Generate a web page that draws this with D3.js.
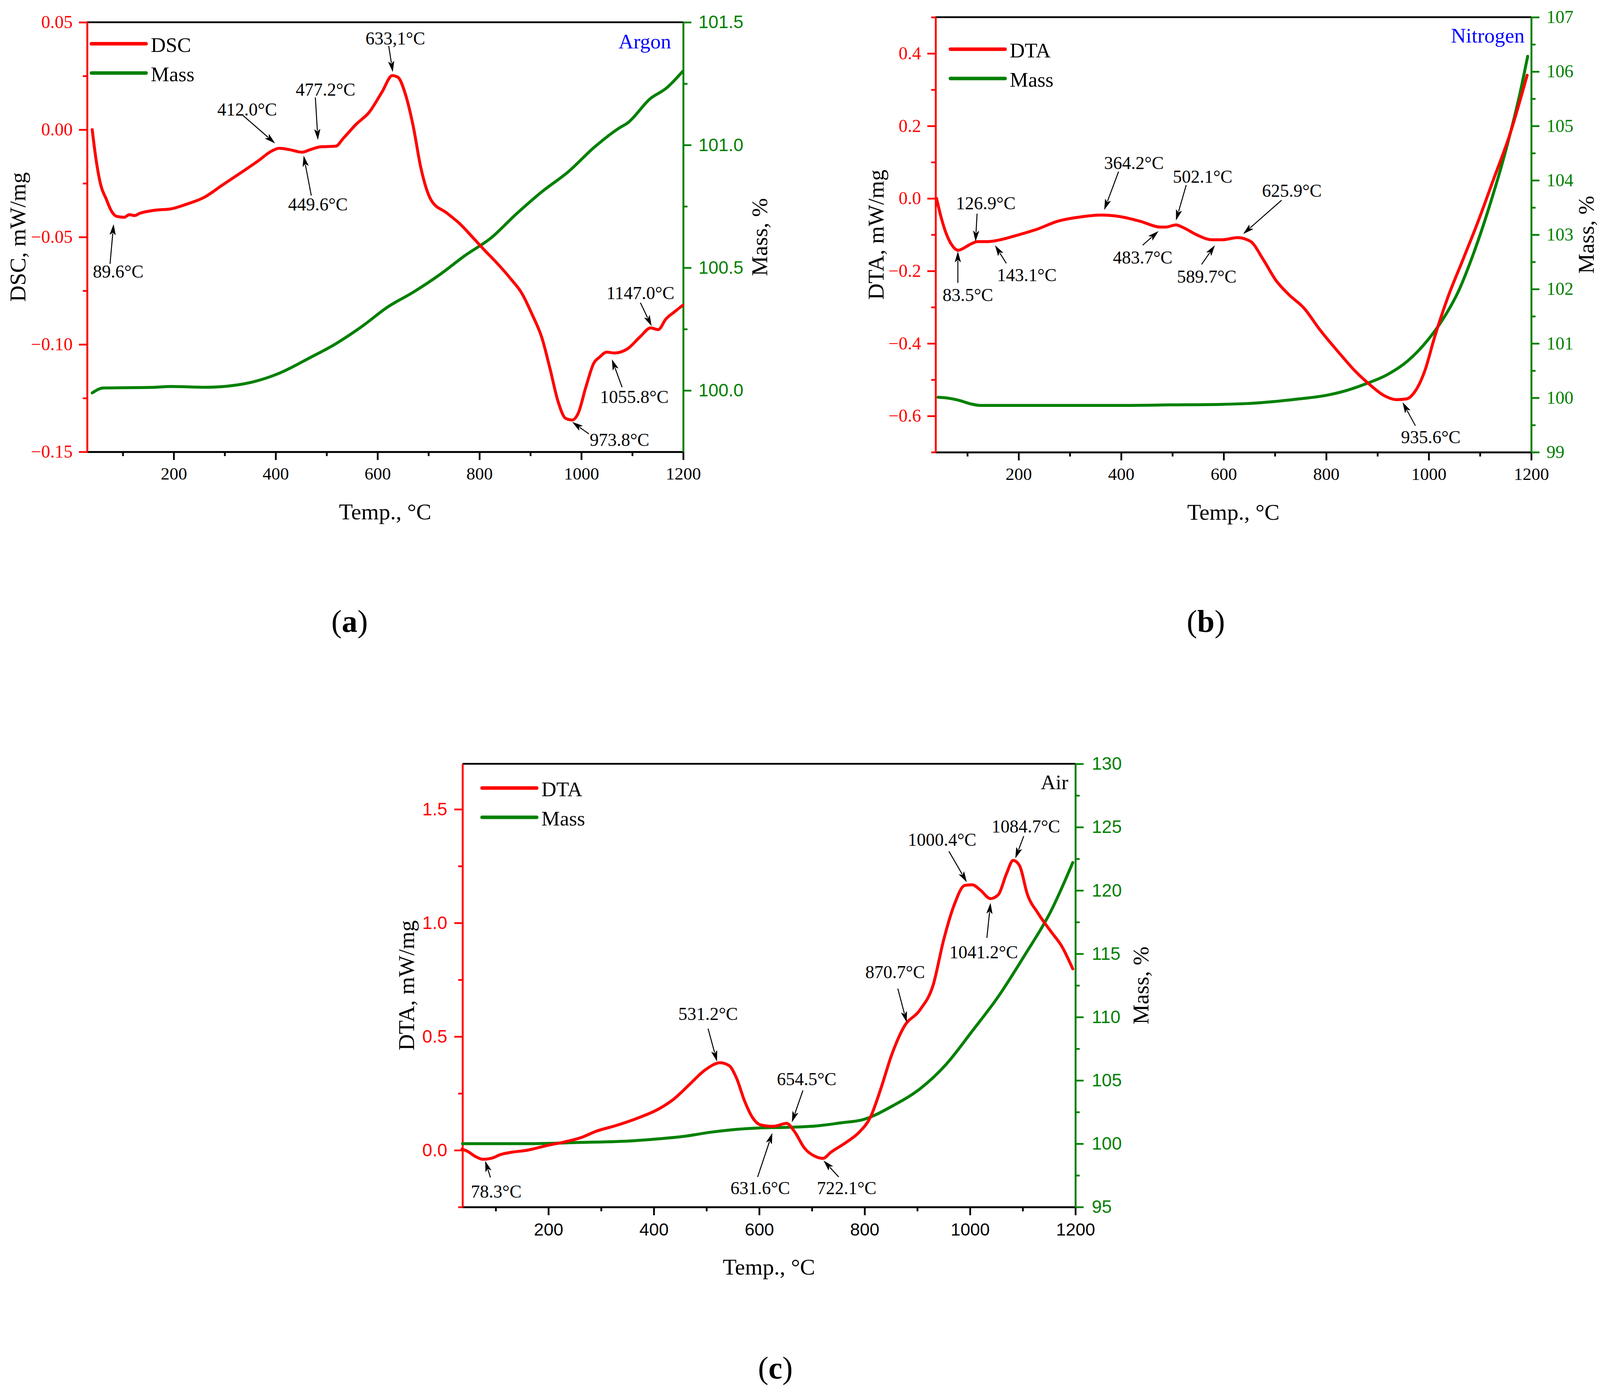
<!DOCTYPE html>
<html>
<head>
<meta charset="utf-8">
<script src="https://cdn.jsdelivr.net/npm/d3@7"></script>
<style>
  body { margin: 0; background: #fff; }
  svg { display: block; }
</style>
</head>
<body>
<div id="chart"></div>
<script>
/* CONSTANTS */
const W = 4141, H = 3557;
const SERIF = "'Liberation Serif', 'Times New Roman', serif";
const SANS = "'Liberation Sans', Arial, sans-serif";
const RED = "#ff0000", GREEN = "#008000", BLUE = "#0000ff";
const AXW = 4.5, LW = 7.5;

/* DATA - panel (a), argon */
const tA = [40,47,57,67,78,88,103,113,123,133,164,194,224,260,295,336,366,392,407,427,452,468,488,518,533,558,584,609,629,640,655,670,685,706,736,761,787,812,832,862,883,903,923,939,954,969,982,994,1009,1025,1035,1050,1065,1091,1116,1136,1151,1166,1182,1199];
const dscA = [0.000,-0.013,-0.026,-0.032,-0.038,-0.0404,-0.0408,-0.0396,-0.040,-0.039,-0.0375,-0.0369,-0.0348,-0.0315,-0.0259,-0.0194,-0.0145,-0.0100,-0.0087,-0.0093,-0.0105,-0.0093,-0.0080,-0.0077,-0.0040,0.0025,0.0082,0.0176,0.0252,0.0244,0.0163,0.0017,-0.0177,-0.0331,-0.0388,-0.0437,-0.0502,-0.0566,-0.0615,-0.0696,-0.0761,-0.0858,-0.0972,-0.1117,-0.1263,-0.1344,-0.1352,-0.1320,-0.1198,-0.1085,-0.1061,-0.1036,-0.104,-0.102,-0.0963,-0.0923,-0.0931,-0.0882,-0.0850,-0.0818];
const tmA = [40,62,164,194,265,316,356,407,468,518,569,620,670,721,772,822,873,923,974,1025,1075,1091,1136,1166,1199];
const massA = [99.99,100.01,100.013,100.016,100.013,100.02,100.035,100.07,100.134,100.19,100.26,100.34,100.40,100.47,100.55,100.62,100.72,100.81,100.89,100.99,101.07,101.09,101.19,101.23,101.30];

/* DATA - panel (b), nitrogen */
const tB = [40,47,57,70,82,93,105,120,141,161,196,236,276,316,362,397,437,477,487,507,522,547,577,597,627,652,677,702,727,757,787,827,857,887,912,937,957,972,992,1012,1037,1067,1097,1127,1157,1192];
const dtaB = [0.0,-0.042,-0.090,-0.129,-0.143,-0.137,-0.127,-0.119,-0.119,-0.115,-0.102,-0.085,-0.063,-0.052,-0.046,-0.050,-0.063,-0.079,-0.079,-0.073,-0.081,-0.100,-0.114,-0.114,-0.108,-0.118,-0.168,-0.226,-0.265,-0.303,-0.361,-0.429,-0.477,-0.516,-0.543,-0.555,-0.553,-0.535,-0.477,-0.380,-0.274,-0.168,-0.061,0.055,0.171,0.340];
const tmB = [43,65,85,106,126,196,397,497,597,647,697,747,797,838,878,918,958,998,1028,1058,1088,1118,1148,1178,1193];
const massB = [100.01,99.99,99.95,99.89,99.86,99.86,99.86,99.87,99.88,99.895,99.93,99.98,100.04,100.13,100.26,100.42,100.67,101.06,101.45,101.96,102.67,103.51,104.47,105.60,106.28];

/* DATA - panel (c), air */
const tC = [36,46,61,76,91,111,130,160,200,230,265,289,329,369,409,438,468,498,526,543,557,572,587,602,627,652,667,686,706,721,736,766,791,811,831,851,875,905,930,950,970,990,1004,1019,1039,1054,1069,1082,1094,1109,1129,1154,1174,1195];
const dtaC = [0.005,-0.004,-0.027,-0.040,-0.036,-0.018,-0.009,0.000,0.022,0.036,0.058,0.082,0.109,0.141,0.181,0.225,0.290,0.354,0.385,0.372,0.317,0.218,0.145,0.112,0.105,0.118,0.082,0.009,-0.027,-0.036,-0.009,0.036,0.082,0.145,0.272,0.417,0.544,0.617,0.726,0.925,1.079,1.165,1.168,1.146,1.107,1.125,1.215,1.275,1.252,1.125,1.043,0.961,0.898,0.798];
const tmC = [37,160,260,359,419,459,508,558,597,657,707,757,796,855,905,955,1004,1054,1104,1154,1195];
const massC = [100.0,100.0,100.1,100.23,100.42,100.59,100.91,101.14,101.24,101.30,101.40,101.66,101.89,103.03,104.33,106.28,108.88,111.64,114.9,118.4,122.2];

/* TICKS */
const xTicks = [200,400,600,800,1000,1200];
const xMinor = [100,300,500,700,900,1100];
const yTicksA = [-0.15,-0.10,-0.05,0.00,0.05], yMinorA = [-0.125,-0.075,-0.025,0.025];
const rTicksA = [100.0,100.5,101.0,101.5], rMinorA = [100.25,100.75,101.25];
const yTicksB = [-0.6,-0.4,-0.2,0.0,0.2,0.4], yMinorB = [-0.7,-0.5,-0.3,-0.1,0.1,0.3,0.5];
const rTicksB = [99,100,101,102,103,104,105,106,107], rMinorB = [99.5,100.5,101.5,102.5,103.5,104.5,105.5,106.5];
const yTicksC = [0.0,0.5,1.0,1.5], yMinorC = [-0.25,0.25,0.75,1.25];
const rTicksC = [95,100,105,110,115,120,125,130], rMinorC = [97.5,102.5,107.5,112.5,117.5,122.5,127.5];

/* PEAK ANNOTATIONS: label (lx,ly), arrow tail (ax,ay), arrow tip (bx,by) in data units */
const annotA = [
  {t:"89.6°C",  lx:91,   ly:-0.066,  ax:75,   ay:-0.0625, bx:82,   by:-0.0440},
  {t:"412.0°C", lx:344,  ly:0.0093,  ax:336,  ay:0.0066,  bx:399,  by:-0.0064},
  {t:"477.2°C", lx:498,  ly:0.0187,  ax:478,  ay:0.0150,  bx:483,  by:-0.0048},
  {t:"449.6°C", lx:483,  ly:-0.0348, ax:470,  ay:-0.0307, bx:455,  by:-0.0121},
  {t:"633,1°C", lx:635,  ly:0.0425,  ax:622,  ay:0.0390,  bx:630,  by:0.0268},
  {t:"1147.0°C",lx:1116, ly:-0.0761, ax:1116, ay:-0.0806, bx:1138, by:-0.0915},
  {t:"1055.8°C",lx:1104, ly:-0.1244, ax:1080, ay:-0.1199, bx:1060, by:-0.1069},
  {t:"973.8°C", lx:1075, ly:-0.1445, ax:1015, ay:-0.1417, bx:982,  by:-0.1361}
];
const annotB = [
  {t:"83.5°C",  lx:101,  ly:-0.266, ax:81.5, ay:-0.233, bx:81.5, by:-0.146},
  {t:"126.9°C", lx:136,  ly:-0.013, ax:119,  ay:-0.042, bx:116,  by:-0.119},
  {t:"143.1°C", lx:216,  ly:-0.211, ax:176,  ay:-0.179, bx:154,  by:-0.129},
  {t:"364.2°C", lx:425,  ly:0.098,  ax:395,  ay:0.074,  bx:367,  by:-0.032},
  {t:"502.1°C", lx:559,  ly:0.060,  ax:527,  ay:0.037,  bx:507,  by:-0.061},
  {t:"625.9°C", lx:733,  ly:0.021,  ax:713,  ay:-0.005, bx:638,  by:-0.098},
  {t:"483.7°C", lx:442,  ly:-0.163, ax:442,  ay:-0.129, bx:473,  by:-0.090},
  {t:"589.7°C", lx:567,  ly:-0.216, ax:557,  ay:-0.182, bx:583,  by:-0.129},
  {t:"935.6°C", lx:1004, ly:-0.659, ax:974,  ay:-0.627, bx:949,  by:-0.562}
];
const annotC = [
  {t:"78.3°C",  lx:101,  ly:-0.182, ax:90,   ay:-0.120, bx:80,   by:-0.047},
  {t:"531.2°C", lx:503,  ly:0.599,  ax:503,  ay:0.535,  bx:520,  by:0.390},
  {t:"654.5°C", lx:690,  ly:0.312,  ax:683,  ay:0.263,  bx:662,  by:0.123},
  {t:"631.6°C", lx:602,  ly:-0.167, ax:597,  ay:-0.118, bx:625,  by:0.076},
  {t:"722.1°C", lx:766,  ly:-0.167, ax:751,  ay:-0.118, bx:722,  by:-0.045},
  {t:"870.7°C", lx:858,  ly:0.784,  ax:863,  ay:0.711,  bx:880,  by:0.562},
  {t:"1000.4°C",lx:947,  ly:1.366,  ax:960,  ay:1.315,  bx:994,  by:1.179},
  {t:"1041.2°C",lx:1026, ly:0.871,  ax:1032, ay:0.934,  bx:1039, by:1.088},
  {t:"1084.7°C",lx:1106, ly:1.424,  ax:1102, ay:1.382,  bx:1086, by:1.284}
];

/* SVG */
const svg = d3.select("#chart").append("svg")
  .attr("width", W).attr("height", H)
  .attr("viewBox", `0 0 ${W} ${H}`);

// the three panels share the layout code; boxes, fonts and data differ
const panels = [
  {
    left: 223, right: 1749, top: 57, bottom: 1157,
    xDomain: [30, 1200], yLDomain: [-0.15, 0.05], yRDomain: [99.75, 101.5],
    yTicks: yTicksA, yMinor: yMinorA, rTicks: rTicksA, rMinor: rMinorA,
    yFmt: d3.format(".2f"), rFmt: d3.format(".1f"),
    xFont: SERIF, lFont: SERIF, rFont: SANS, lPad: 16, rPad: 18, xPad: 18,
    t: tA, v: dscA, tm: tmA, m: massA, annot: annotA,
    name: "DSC", yTitle: "DSC, mW/mg", yTitleX: 65, rTitleX: 1964,
    legX: 234, legY: 112, gas: "Argon", gasColor: BLUE, gasX: 1718, gasY: 124,
    tag: "a", tagX: 895, tagY: 1618
  },
  {
    left: 2395, right: 3920, top: 44, bottom: 1158,
    xDomain: [38, 1200], yLDomain: [-0.7, 0.5], yRDomain: [99, 107],
    yTicks: yTicksB, yMinor: yMinorB, rTicks: rTicksB, rMinor: rMinorB,
    yFmt: d3.format(".1f"), rFmt: d3.format("d"),
    xFont: SERIF, lFont: SERIF, rFont: SERIF, lPad: 16, rPad: 18, xPad: 18,
    t: tB, v: dtaB, tm: tmB, m: massB, annot: annotB,
    name: "DTA", yTitle: "DTA, mW/mg", yTitleX: 2262, rTitleX: 4080,
    legX: 2433, legY: 126, gas: "Nitrogen", gasColor: BLUE, gasX: 3903, gasY: 109,
    tag: "b", tagX: 3087, tagY: 1618
  },
  {
    left: 1184, right: 2753, top: 1956, bottom: 3091,
    xDomain: [37, 1200], yLDomain: [-0.25, 1.7], yRDomain: [95, 130],
    yTicks: yTicksC, yMinor: yMinorC, rTicks: rTicksC, rMinor: rMinorC,
    yFmt: d3.format(".1f"), rFmt: d3.format("d"),
    xFont: SANS, lFont: SANS, rFont: SANS, lPad: 18, rPad: 21, xPad: 20,
    t: tC, v: dtaC, tm: tmC, m: massC, annot: annotC,
    name: "DTA", yTitle: "DTA, mW/mg", yTitleX: 1060, rTitleX: 2940,
    legX: 1234, legY: 2018, gas: "Air", gasColor: "#000", gasX: 2735, gasY: 2021,
    tag: "c", tagX: 1985, tagY: 3530
  }
];

panels.forEach(drawPanel);

function styleAxis(sel, color, font, size) {
  sel.attr("font-family", font).attr("font-size", size);
  sel.select(".domain").attr("stroke", color).attr("stroke-width", AXW);
  sel.selectAll(".tick line").attr("stroke", color).attr("stroke-width", AXW);
  sel.selectAll(".tick text").attr("fill", color);
}

function drawPanel(p) {
  const g = svg.append("g");

  const x = d3.scaleLinear().domain(p.xDomain).range([p.left, p.right]);
  const yL = d3.scaleLinear().domain(p.yLDomain).range([p.bottom, p.top]);
  const yR = d3.scaleLinear().domain(p.yRDomain).range([p.bottom, p.top]);

  // top frame line
  g.append("line")
    .attr("x1", p.left).attr("x2", p.right)
    .attr("y1", p.top).attr("y2", p.top)
    .attr("stroke", "#000").attr("stroke-width", AXW);

  // bottom axis: minor then major
  g.append("g")
    .attr("transform", `translate(0,${p.bottom})`)
    .call(d3.axisBottom(x).tickValues(xMinor).tickSize(11).tickSizeOuter(0).tickFormat(""))
    .call(s => styleAxis(s, "#000", p.xFont, 45));
  g.append("g")
    .attr("transform", `translate(0,${p.bottom})`)
    .call(d3.axisBottom(x).tickValues(xTicks).tickSize(21).tickSizeOuter(0)
      .tickPadding(p.xPad).tickFormat(d3.format("d")))
    .call(s => styleAxis(s, "#000", p.xFont, 45));

  // left axis (red)
  g.append("g")
    .attr("transform", `translate(${p.left},0)`)
    .call(d3.axisLeft(yL).tickValues(p.yMinor).tickSize(11).tickSizeOuter(0).tickFormat(""))
    .call(s => styleAxis(s, RED, p.lFont, 46));
  g.append("g")
    .attr("transform", `translate(${p.left},0)`)
    .call(d3.axisLeft(yL).tickValues(p.yTicks).tickSize(21).tickSizeOuter(0)
      .tickPadding(p.lPad).tickFormat(p.yFmt))
    .call(s => styleAxis(s, RED, p.lFont, 46));

  // right axis (green)
  g.append("g")
    .attr("transform", `translate(${p.right},0)`)
    .call(d3.axisRight(yR).tickValues(p.rMinor).tickSize(11).tickSizeOuter(0).tickFormat(""))
    .call(s => styleAxis(s, GREEN, p.rFont, 46));
  g.append("g")
    .attr("transform", `translate(${p.right},0)`)
    .call(d3.axisRight(yR).tickValues(p.rTicks).tickSize(21).tickSizeOuter(0)
      .tickPadding(p.rPad).tickFormat(p.rFmt))
    .call(s => styleAxis(s, GREEN, p.rFont, 46));

  // curves: mass first, heat flow on top
  const massLine = d3.line().x((d, i) => x(p.tm[i])).y(d => yR(d)).curve(d3.curveMonotoneX);
  const heatLine = d3.line().x((d, i) => x(p.t[i])).y(d => yL(d)).curve(d3.curveMonotoneX);

  g.append("path").datum(p.m)
    .attr("d", massLine)
    .attr("fill", "none").attr("stroke", GREEN).attr("stroke-width", LW)
    .attr("stroke-linejoin", "round").attr("stroke-linecap", "round");
  g.append("path").datum(p.v)
    .attr("d", heatLine)
    .attr("fill", "none").attr("stroke", RED).attr("stroke-width", LW)
    .attr("stroke-linejoin", "round").attr("stroke-linecap", "round");

  // annotations
  const ann = g.append("g").selectAll("g").data(p.annot).join("g");
  ann.append("text")
    .attr("x", d => x(d.lx)).attr("y", d => yL(d.ly))
    .attr("text-anchor", "middle").attr("dominant-baseline", "central")
    .attr("font-family", SERIF).attr("font-size", 46).attr("fill", "#000")
    .text(d => d.t);
  ann.each(function (d) {
    const x0 = x(d.ax), y0 = yL(d.ay), x1 = x(d.bx), y1 = yL(d.by);
    const len = Math.hypot(x1 - x0, y1 - y0), ux = (x1 - x0) / len, uy = (y1 - y0) / len;
    const hl = 28, hw = 8;
    const bx = x1 - ux * hl, by = y1 - uy * hl;
    const s = d3.select(this);
    s.append("line")
      .attr("x1", x0).attr("y1", y0).attr("x2", bx + ux * 4).attr("y2", by + uy * 4)
      .attr("stroke", "#000").attr("stroke-width", 2.5);
    s.append("path")
      .attr("d", `M${x1},${y1}L${bx - uy * hw},${by + ux * hw}L${bx + ux * 6},${by + uy * 6}L${bx + uy * hw},${by - ux * hw}Z`)
      .attr("fill", "#000");
  });

  // legend
  const leg = g.append("g");
  [[p.name, RED, 0], ["Mass", GREEN, 75]].forEach(([label, color, dy]) => {
    leg.append("line")
      .attr("x1", p.legX).attr("x2", p.legX + 140)
      .attr("y1", p.legY + dy).attr("y2", p.legY + dy)
      .attr("stroke", color).attr("stroke-width", 9).attr("stroke-linecap", "round");
    leg.append("text")
      .attr("x", p.legX + 152).attr("y", p.legY + dy + 3)
      .attr("dominant-baseline", "central")
      .attr("font-family", SERIF).attr("font-size", 53).attr("fill", "#000")
      .text(label);
  });

  // atmosphere label
  g.append("text")
    .attr("x", p.gasX).attr("y", p.gasY)
    .attr("text-anchor", "end")
    .attr("font-family", SERIF).attr("font-size", 53).attr("fill", p.gasColor)
    .text(p.gas);

  // axis titles (rotated ones placed by their baseline)
  const midY = (p.top + p.bottom) / 2;
  g.append("text")
    .attr("transform", `translate(${p.yTitleX},${midY}) rotate(-90)`)
    .attr("text-anchor", "middle")
    .attr("font-family", SERIF).attr("font-size", 58).attr("fill", "#000")
    .text(p.yTitle);
  g.append("text")
    .attr("transform", `translate(${p.rTitleX},${midY}) rotate(-90)`)
    .attr("text-anchor", "middle")
    .attr("font-family", SERIF).attr("font-size", 58).attr("fill", "#000")
    .text("Mass, %");
  g.append("text")
    .attr("x", (p.left + p.right) / 2).attr("y", p.bottom + 173)
    .attr("text-anchor", "middle")
    .attr("font-family", SERIF).attr("font-size", 58).attr("fill", "#000")
    .text("Temp., °C");

  // panel tag (a), (b), (c)
  const tag = g.append("text")
    .attr("x", p.tagX).attr("y", p.tagY)
    .attr("text-anchor", "middle")
    .attr("font-family", SERIF).attr("font-size", 80).attr("fill", "#000");
  tag.append("tspan").text("(");
  tag.append("tspan").attr("font-weight", "bold").text(p.tag);
  tag.append("tspan").text(")");
}
</script>
</body>
</html>
